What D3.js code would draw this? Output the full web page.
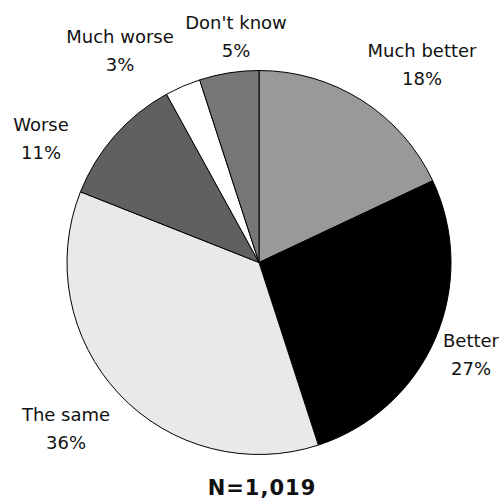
<!DOCTYPE html>
<html>
<head>
<meta charset="utf-8">
<script src="https://cdn.jsdelivr.net/npm/d3@7"></script>
<style>
  html, body { margin: 0; padding: 0; background: #fff; }
  svg { display: block; }
  text { font-family: "DejaVu Sans", Verdana, sans-serif; fill: #111; }
</style>
</head>
<body>
<svg id="chart" width="499" height="503"></svg>
<script>
const categories = ["Much better", "Better", "The same", "Worse", "Much worse", "Don't know"];
const values = [18, 27, 36, 11, 3, 5];
const sampleLabel = "N=1,019";

const sliceColors = ["#999999", "#000000", "#e9e9e9", "#606060", "#ffffff", "#777777"];
// label anchor points (center x, first baseline y)
const labelPos = [[422, 57], [471, 347], [66, 421], [41, 131], [120, 43], [236, 29]];

const W = 499, H = 503;
const cx = 259, cy = 262.5, R = 192;
const svg = d3.select("#chart");

const pie = d3.pie().sort(null).value(d => d.value);
const arc = d3.arc().innerRadius(0).outerRadius(R);
const data = categories.map((c, i) => ({ name: c, value: values[i], i }));

const g = svg.append("g").attr("transform", `translate(${cx},${cy})`);
g.selectAll("path")
  .data(pie(data))
  .join("path")
  .attr("d", arc)
  .attr("fill", d => sliceColors[d.data.i])
  .attr("stroke", "#000")
  .attr("stroke-width", 1)
  .attr("stroke-linejoin", "round");

const lab = svg.append("g");
data.forEach((d, i) => {
  const t = lab.append("text")
    .attr("x", labelPos[i][0])
    .attr("y", labelPos[i][1])
    .attr("text-anchor", "middle")
    .style("font-size", "18px");
  t.append("tspan").attr("x", labelPos[i][0]).text(d.name);
  t.append("tspan").attr("x", labelPos[i][0]).attr("dy", 27.5).text(d.value + "%");
});

svg.append("text")
  .attr("x", 262)
  .attr("y", 495)
  .attr("text-anchor", "middle")
  .style("font-size", "21px")
  .style("font-weight", "bold")
  .style("letter-spacing", "1px")
  .text(sampleLabel);
</script>
</body>
</html>
